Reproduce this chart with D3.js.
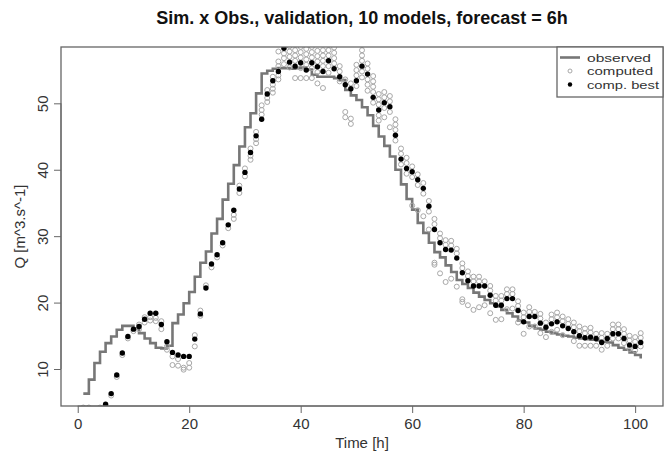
<!DOCTYPE html>
<html>
<head>
<meta charset="utf-8">
<script src="https://cdn.jsdelivr.net/npm/d3@7"></script>
<style>
  body { margin: 0; background: #fff; }
  text { font-family: "Liberation Sans", Arial, sans-serif; }
</style>
</head>
<body>
<div id="chart"></div>
<script>
// hourly time steps 1..101
const hours = d3.range(1, 102);

// observed discharge (step line)
const observed = [
  6.3, 8.4, 10.9, 12.6, 13.9, 14.9, 15.9, 16.5, 16.5, 16.1,
  15.4, 14.6, 13.9, 13.2, 13.1, 13.5, 16.9, 18.2, 19.9, 21.6,
  23.9, 26.0, 27.7, 30.4, 32.6, 35.5, 37.9, 40.7, 43.5, 46.4,
  48.5, 51.5, 54.5, 54.9, 55.2, 55.3, 55.3, 55.2, 55.3, 55.4,
  55.1, 54.3, 54.0, 54.0, 54.0, 53.8, 53.5, 52.0, 51.2, 50.5,
  49.4, 48.2, 46.6, 45.0, 43.6, 42.0, 40.0, 37.8, 35.6, 34.0,
  32.0, 30.5, 29.0, 27.6, 26.8, 25.6, 24.6, 23.4, 22.8, 22.2,
  21.5, 20.9, 20.4, 19.9, 19.4, 18.9, 18.4, 17.9, 17.3, 17.0,
  16.5, 16.1, 15.9, 15.6, 15.4, 15.2, 15.0, 14.9, 14.7, 14.6,
  14.5, 14.4, 14.3, 14.1, 14.0, 13.6, 13.2, 12.9, 12.5, 12.1,
  11.6
];

// best model output
const best = [
  3.5, 3.5, 3.5, 3.8, 4.7, 6.3, 9.1, 12.4, 14.9, 16.0,
  16.4, 17.5, 18.4, 18.4, 16.7, 14.1, 12.5, 12.1, 11.9, 11.9,
  14.5, 18.3, 22.2, 25.8, 27.2, 29.0, 31.7, 33.9, 37.1, 39.6,
  42.6, 45.1, 47.6, 51.4, 53.4, 54.8, 58.3, 56.2, 55.6, 56.1,
  55.0, 56.1, 55.5, 54.8, 56.4, 55.2, 54.0, 52.8, 52.2, 53.4,
  55.6, 54.4, 50.9, 49.0, 50.1, 49.5, 45.2, 41.6, 40.2, 39.7,
  38.5, 37.2, 34.5, 31.0, 29.0, 28.0, 27.9, 26.7, 24.5, 23.3,
  22.5, 22.5, 22.5, 21.1, 19.6, 19.6, 20.6, 20.6, 18.8, 17.1,
  17.9, 17.9, 16.9, 16.3, 16.8, 17.1, 16.5, 16.1, 15.6, 15.0,
  14.7, 14.8, 14.6, 14.0, 14.6, 15.3, 15.3, 14.6, 13.6, 13.4,
  14.0
];

// outputs of the other models, one list per hour
const computed = [
  [4.2], [4.2], [3.6], [4.2], [4.4], [6.0], [8.8], [12.1], [14.6], [15.7],
  [16.0, 16.7], [17.0, 17.8], [17.3, 17.8], [17.2, 17.7], [16.0, 17.2],
  [13.4, 12.9], [11.9, 10.6], [11.5, 10.5], [10.2, 9.9], [10.9, 10.2],
  [15.1, 13.4], [18.8, 18.0], [22.6], [25.3], [26.8],
  [28.6], [31.2], [33.2, 32.6], [36.5, 37.6], [39.0, 40.2],
  [42.1, 43.2, 41.5], [44.6, 45.7, 44.0], [48.3, 49.0, 49.7], [50.8, 52.0, 50.2], [52.8, 52.2, 51.6, 54.0],
  [53.6, 54.2, 55.6, 56.3, 57.8], [57.5, 56.8, 55.9, 58.9], [57.0, 57.8, 58.6, 55.4], [56.4, 57.2, 58.0, 58.8, 53.8], [56.9, 57.7, 58.5, 55.3, 53.8],
  [55.8, 56.6, 57.4, 58.2, 53.8], [56.9, 57.7, 58.5, 55.3, 53.8], [56.3, 57.1, 57.9, 54.7, 53.0], [55.6, 56.4, 57.2, 58.0, 52.3], [57.2, 58.0, 58.8, 55.6, 54.6],
  [56.0, 56.8, 57.6, 58.4], [54.8, 55.6, 53.3], [53.6, 48.7, 47.9], [53.0, 47.7, 46.9], [54.2, 55.0, 55.8, 52.6],
  [56.4, 57.2, 58.0, 58.8, 54.8, 53.9], [55.2, 56.0, 53.6, 52.8, 51.9], [51.7, 52.5, 53.3, 54.1, 50.1], [49.8, 50.6, 51.4, 48.2, 47.4], [50.9, 51.7, 49.3, 47.9],
  [50.3, 51.1, 48.7, 46.4], [46.0, 46.8, 47.6, 44.4], [42.4, 43.2, 40.8], [41.0, 41.8, 39.4], [40.5, 38.9, 34.6],
  [39.3, 37.7, 33.9], [38.0, 36.4, 33.0], [35.3, 33.7, 31.0], [31.8, 32.6, 26.0, 25.7], [29.7, 30.4, 24.4],
  [28.7, 29.4, 23.1], [28.6, 29.3, 23.6], [27.4, 28.1, 22.4], [25.2, 25.9, 20.5, 20.1], [24.0, 24.7, 19.6],
  [23.2, 23.9, 18.9], [23.2, 23.9, 19.3], [23.2, 19.6], [21.8, 22.5, 18.4], [20.3, 21.0, 17.4],
  [20.3, 21.0, 17.5], [21.3, 22.0, 19.0], [21.3, 22.0, 19.1], [19.5, 20.2, 17.0], [17.8, 18.5, 15.3],
  [18.6, 19.3, 16.4], [18.6, 16.4], [17.6, 18.3, 15.4], [17.0, 14.8], [17.5, 18.2, 15.6],
  [17.8, 18.5, 15.9], [17.2, 17.9, 15.1], [16.8, 17.5], [16.3, 17.0, 14.2], [15.7, 16.4, 13.5],
  [15.4, 16.1, 13.5], [15.5, 16.2, 13.5], [15.3, 13.5], [14.7, 15.4, 12.9], [15.3, 13.5],
  [16.0, 16.7, 14.6], [16.0, 16.7, 14.6], [15.3, 16.0, 13.9], [14.3, 15.0, 13.0], [14.1, 14.8, 12.8],
  [14.7, 15.4, 13.4]
];

const xTicks = [0, 20, 40, 60, 80, 100];
const yTicks = [10, 20, 30, 40, 50];
const legendItems = ["observed", "computed", "comp. best"];

// layout
const width = 670, height = 456;
const mLeft = 61, mRight = 663, mTop = 47, mBottom = 406;
const lineGrey = "#777", ptGrey = "#a8a8a8", axisCol = "#666", txtCol = "#333";

const x = d3.scaleLinear().domain([-3, 105]).range([mLeft, mRight]);
const y = d3.scaleLinear().domain([4.43, 58.48]).range([mBottom, mTop]);

const svg = d3.select('#chart').append('svg')
  .attr('width', width)
  .attr('height', height);

svg.append('defs').append('clipPath').attr('id', 'plotclip')
  .append('rect')
  .attr('x', mLeft).attr('y', mTop)
  .attr('width', mRight - mLeft).attr('height', mBottom - mTop);

const plot = svg.append('g').attr('clip-path', 'url(#plotclip)');

// observed as step line (R type = "s")
const obsData = hours.map((h, i) => [h, observed[i]]);
plot.append('path')
  .datum(obsData)
  .attr('fill', 'none')
  .attr('stroke', lineGrey)
  .attr('stroke-width', 2.6)
  .attr('d', d3.line().x(d => x(d[0])).y(d => y(d[1])).curve(d3.curveStepAfter));

// other models: open grey circles
const compData = hours.flatMap((h, i) => computed[i].map(v => [h, v]));
plot.selectAll('circle.comp')
  .data(compData)
  .join('circle')
  .attr('class', 'comp')
  .attr('cx', d => x(d[0]))
  .attr('cy', d => y(d[1]))
  .attr('r', 2.5)
  .attr('fill', 'none')
  .attr('stroke', ptGrey)
  .attr('stroke-width', 1);

// best model: filled black dots
plot.selectAll('circle.best')
  .data(hours.map((h, i) => [h, best[i]]))
  .join('circle')
  .attr('class', 'best')
  .attr('cx', d => x(d[0]))
  .attr('cy', d => y(d[1]))
  .attr('r', 2.7)
  .attr('fill', '#000');

// frame
svg.append('rect')
  .attr('x', mLeft).attr('y', mTop)
  .attr('width', mRight - mLeft).attr('height', mBottom - mTop)
  .attr('fill', 'none')
  .attr('stroke', axisCol)
  .attr('stroke-width', 1.3);

// x axis
const xAxis = svg.append('g').attr('transform', `translate(0,${mBottom})`)
  .call(d3.axisBottom(x).tickValues(xTicks).tickSize(7).tickPadding(5).tickSizeOuter(0));
xAxis.select('.domain').attr('d', `M${x(xTicks[0])},0H${x(xTicks[xTicks.length - 1])}`).attr('stroke', axisCol);
xAxis.selectAll('line').attr('stroke', axisCol);
xAxis.selectAll('text').attr('fill', txtCol).style('font-size', '15px');

// y axis, labels rotated as in R (las = 0)
const yAxis = svg.append('g').attr('transform', `translate(${mLeft},0)`)
  .call(d3.axisLeft(y).tickValues(yTicks).tickSize(7).tickSizeOuter(0));
yAxis.select('.domain').attr('d', `M0,${y(yTicks[0])}V${y(yTicks[yTicks.length - 1])}`).attr('stroke', axisCol);
yAxis.selectAll('line').attr('stroke', axisCol);
yAxis.selectAll('text')
  .attr('fill', txtCol)
  .style('font-size', '15px')
  .attr('x', null).attr('dy', null)
  .attr('text-anchor', 'middle')
  .attr('transform', 'translate(-13,0) rotate(-90)')
  .attr('y', 0);

// titles
svg.append('text')
  .attr('x', (mLeft + mRight) / 2).attr('y', 24)
  .attr('text-anchor', 'middle')
  .style('font-size', '18px').style('font-weight', 'bold')
  .attr('fill', '#111')
  .text('Sim. x Obs., validation, 10 models, forecast = 6h');

svg.append('text')
  .attr('x', (mLeft + mRight) / 2).attr('y', 448)
  .attr('text-anchor', 'middle')
  .style('font-size', '15px')
  .attr('fill', txtCol)
  .text('Time [h]');

svg.append('text')
  .attr('transform', `translate(25,${(mTop + mBottom) / 2}) rotate(-90)`)
  .attr('text-anchor', 'middle')
  .style('font-size', '15px')
  .attr('fill', txtCol)
  .text('Q [m^3.s^-1]');

// legend
const lg = svg.append('g');
lg.append('rect')
  .attr('x', 557).attr('y', mTop)
  .attr('width', mRight - 557).attr('height', 50)
  .attr('fill', '#fff')
  .attr('stroke', axisCol)
  .attr('stroke-width', 1.3);
const rowY = [57.5, 71, 84.5];
lg.append('line')
  .attr('x1', 560).attr('x2', 580).attr('y1', rowY[0]).attr('y2', rowY[0])
  .attr('stroke', lineGrey).attr('stroke-width', 2.6);
lg.append('circle').attr('cx', 570).attr('cy', rowY[1]).attr('r', 2)
  .attr('fill', 'none').attr('stroke', ptGrey);
lg.append('circle').attr('cx', 570).attr('cy', rowY[2]).attr('r', 2.2)
  .attr('fill', '#000');
lg.selectAll('text.lab')
  .data(legendItems)
  .join('text')
  .attr('class', 'lab')
  .attr('x', 587)
  .attr('y', (d, i) => rowY[i] + 4.3)
  .style('font-size', '11.5px')
  .attr('textLength', (d, i) => [64, 66, 72][i])
  .attr('lengthAdjust', 'spacingAndGlyphs')
  .attr('fill', txtCol)
  .text(d => d);
</script>
</body>
</html>
